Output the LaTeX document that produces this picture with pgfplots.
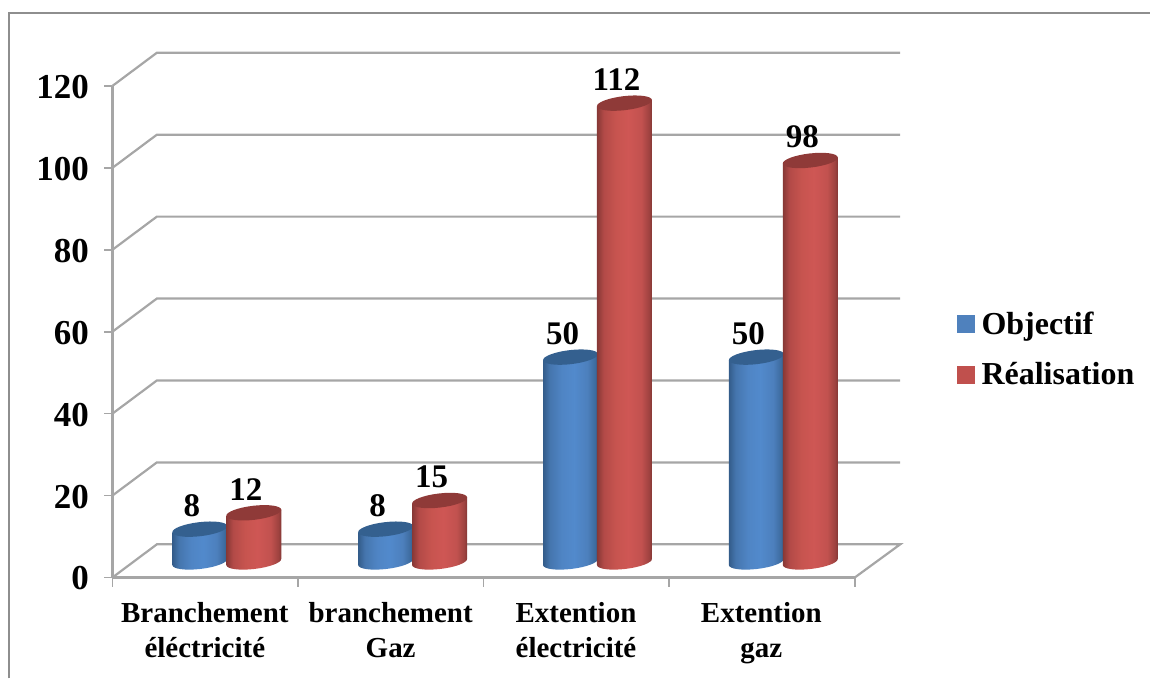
\documentclass[border=0pt]{standalone}
\usepackage{pgfplots}
\pgfplotsset{compat=1.18}
\usepackage{fontspec}
\setmainfont{Liberation Serif}

\definecolor{wallgrey}{HTML}{A6A6A6}
\definecolor{framegrey}{HTML}{8E8E8E}
\definecolor{legblue}{HTML}{4F81BD}
\definecolor{legred}{HTML}{C0504D}
\definecolor{capblue}{HTML}{34608F}
\definecolor{capred}{HTML}{8F3A38}

% Horizontal gradients that give the cylinders their rounded look
\pgfdeclarehorizontalshading{cylblue}{100bp}{
  rgb(0bp)=(.20,.36,.54); rgb(25bp)=(.20,.36,.54); rgb(31bp)=(.27,.46,.68);
  rgb(42bp)=(.31,.52,.77); rgb(53bp)=(.32,.54,.80); rgb(65bp)=(.30,.50,.74);
  rgb(72bp)=(.24,.42,.62); rgb(75bp)=(.19,.34,.51); rgb(100bp)=(.19,.34,.51)}
\pgfdeclarehorizontalshading{cylred}{100bp}{
  rgb(0bp)=(.53,.22,.21); rgb(25bp)=(.53,.22,.21); rgb(31bp)=(.70,.29,.28);
  rgb(42bp)=(.78,.33,.31); rgb(53bp)=(.81,.34,.33); rgb(65bp)=(.76,.32,.31);
  rgb(72bp)=(.62,.26,.25); rgb(75bp)=(.50,.21,.20); rgb(100bp)=(.50,.21,.20)}

% A tilted cylinder hanging from its data point down to the zero level (4.1pt per unit)
\newlength{\cylh}
\newcommand{\declarecylinder}[3]{%
  \pgfdeclareplotmark{#1}{%
    \pgfmathsetlength{\cylh}{\vy*4.1pt}%
    \pgfpathmoveto{\pgfpointadd{\pgfqpoint{-27.5pt}{-3.2pt}}{\pgfqpoint{0pt}{-\cylh}}}%
    \pgfpatharcaxes{180}{360}{\pgfqpoint{27.5pt}{3.2pt}}{\pgfqpoint{-0.8pt}{7pt}}%
    \pgfpathlineto{\pgfqpoint{27.5pt}{3.2pt}}%
    \pgfpathlineto{\pgfqpoint{-27.5pt}{-3.2pt}}%
    \pgfpathclose
    \pgfshadepath{#2}{0}%
    \pgfusepath{discard}%
    \pgfsetfillcolor{#3}%
    \pgfpathellipse{\pgfpointorigin}{\pgfqpoint{27.5pt}{3.2pt}}{\pgfqpoint{-0.8pt}{7pt}}%
    \pgfusepath{fill}%
  }%
}
\declarecylinder{cylinderblue}{cylblue}{capblue}
\declarecylinder{cylinderred}{cylred}{capred}

\pgfplotsset{
  wall/.style={draw=wallgrey, line width=2.2pt, no marks, forget plot},
  common/.style={
    scale only axis, width=743pt, height=492pt, clip=false,
    xmin=112.5, xmax=855.5,
    /pgf/number format/assume math mode=true,
  },
  cylinders/.style={
    scatter, only marks, mark=#1,
    visualization depends on={value \thisrow{y} \as \vy},
    nodes near coords,
    every node near coord/.style={
      font=\fontsize{33}{33}\selectfont\bfseries, inner sep=0pt,
      anchor=south, xshift=-8pt, yshift=12pt, black},
  },
}

\begin{document}
\begin{tikzpicture}
% Frame, walls, floor and the two scales
\begin{axis}[
  common,
  ymin=0, ymax=120,
  axis x line*=bottom, axis y line*=left,
  axis line style={draw=wallgrey, line width=2.2pt, -},
  ytick={0,20,...,120},
  ytick align=outside, xtick align=outside,
  major tick length=8pt,
  tick style={draw=wallgrey, line width=1.6pt},
  y tick label style={font=\fontsize{35}{35}\selectfont\bfseries, xshift=-12pt, yshift=-1pt},
  xtick={205,391,576.5,762},
  xticklabels={Branchement\\éléctricité, branchement\\Gaz, Extention\\électricité, Extention\\gaz},
  x tick label style={font=\fontsize{29}{35}\selectfont\bfseries, align=center, yshift=-13pt},
  major x tick style={draw=none},
  minor xtick={112.5,298,484,669.5,855.5},
  minor tick length=9pt,
  minor x tick style={draw=wallgrey, line width=1.6pt},
]
\path (axis cs:0,-24.63) rectangle (axis cs:1151,140.98);
\addplot[draw=framegrey, line width=2pt, no marks, forget plot]
  coordinates {(9,-24.63) (9,137.8) (1151,137.8)};
\addplot[wall] coordinates {(112.5,0) (157,8.1) (901,8.1) (855.5,0)};
\addplot[wall] coordinates {(112.5,20) (157,28.1) (901,28.1)};
\addplot[wall] coordinates {(112.5,40) (157,48.1) (901,48.1)};
\addplot[wall] coordinates {(112.5,60) (157,68.1) (901,68.1)};
\addplot[wall] coordinates {(112.5,80) (157,88.1) (901,88.1)};
\addplot[wall] coordinates {(112.5,100) (157,108.1) (901,108.1)};
\addplot[wall] coordinates {(112.5,120) (157,128.1) (901,128.1)};
\end{axis}

% Cylinders stand further back on the floor, so their zero sits higher
\begin{axis}[
  common,
  hide axis,
  ymin=-3.8, ymax=116.2,
  legend style={
    draw=none, fill=none,
    at={(axis cs:958,61.25)}, anchor=north west,
    inner sep=0pt, outer sep=0pt,
    font=\fontsize{32}{32}\selectfont\bfseries,
    row sep=21pt, column sep=7pt,
    nodes={inner sep=0pt, text height=23pt, text depth=7pt},
  },
  legend cell align=left,
]
\addplot[cylinders=cylinderblue, legend image code/.code={
    \fill[legblue] (0pt,-6pt) rectangle (17pt,11pt);}]
  table {
x y
200 8
386 8
571 50
757 50
};
\addlegendentry{Objectif}
\addplot[cylinders=cylinderred, legend image code/.code={
    \fill[legred] (0pt,-6pt) rectangle (17pt,11pt);}]
  table {
x y
254 12
440 15
625 112
811 98
};
\addlegendentry{Réalisation}
\end{axis}
\end{tikzpicture}
\end{document}
